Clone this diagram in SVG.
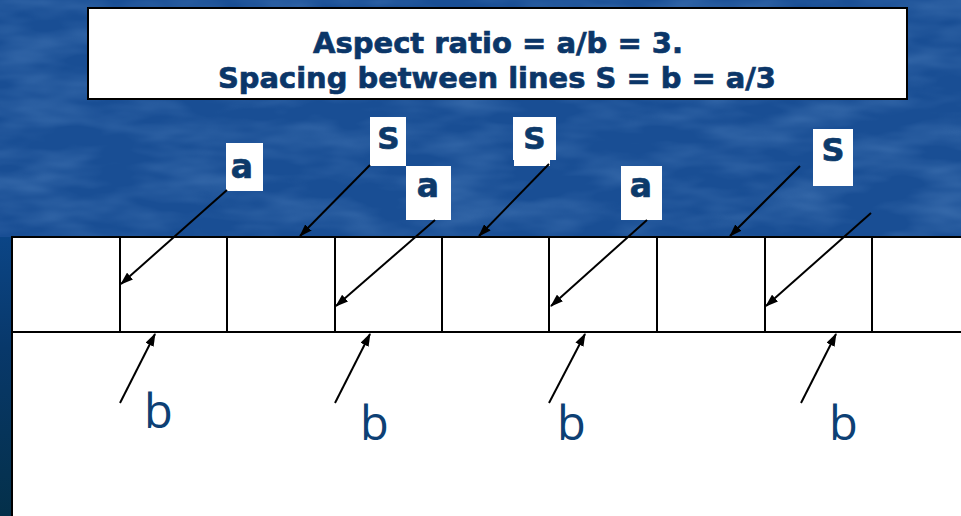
<svg xmlns="http://www.w3.org/2000/svg" width="961" height="516" viewBox="0 0 961 516">
  <defs>
    <style>
      .title { font-family: "DejaVu Sans", "Liberation Sans", sans-serif; font-weight: bold; font-size: 29px; fill: #0b3668; stroke: #0b3668; stroke-width: 0.7px; text-anchor: middle; }
      .lbl { font-family: "DejaVu Sans", "Liberation Sans", sans-serif; font-weight: bold; fill: #0d3a6a; stroke: #0d3a6a; stroke-width: 0.7px; text-anchor: middle; }
      .box { fill: #ffffff; }
      .b { font-family: "Open Sans", "DejaVu Sans", sans-serif; font-size: 47px; fill: #0d4074; }
      .grid { stroke: #000000; stroke-width: 2; fill: none; }
      .arrow { stroke: #000000; stroke-width: 2; fill: none; marker-end: url(#ah); }
    </style>
    <marker id="ah" markerUnits="userSpaceOnUse" markerWidth="13" markerHeight="9" refX="12" refY="4.5" orient="auto">
      <path d="M0,0 L13,4.5 L0,9 z" fill="#000000"/>
    </marker>
    <linearGradient id="leftg" x1="0" y1="0" x2="0" y2="1">
      <stop offset="0" stop-color="#0b4586"/>
      <stop offset="0.4" stop-color="#08386a"/>
      <stop offset="1" stop-color="#04304a"/>
    </linearGradient>
    <filter id="tex" x="0" y="0" width="100%" height="100%">
      <feTurbulence type="fractalNoise" baseFrequency="0.012 0.04" numOctaves="3" seed="7"/>
      <feColorMatrix type="matrix" values="0 0 0 0 0.35  0 0 0 0 0.6  0 0 0 0 0.95  1.2 0 0 0 -0.45"/>
    </filter>
  </defs>

  <!-- background -->
  <rect x="0" y="0" width="961" height="516" fill="#194e94"/>
  <rect x="0" y="0" width="961" height="516" filter="url(#tex)" opacity="0.35"/>
  <rect x="0" y="237" width="12" height="279" fill="url(#leftg)"/>

  <!-- title -->
  <g id="title">
    <rect x="88" y="8" width="819" height="91" fill="#ffffff" stroke="#000000" stroke-width="2"/>
    <text class="title" x="498" y="53" textLength="370" lengthAdjust="spacingAndGlyphs">Aspect ratio = a/b = 3.</text>
    <text class="title" x="497" y="88" textLength="558" lengthAdjust="spacingAndGlyphs">Spacing between lines S = b = a/3</text>
  </g>

  <!-- substrate with line pattern -->
  <g id="pattern">
    <rect x="12" y="237" width="955" height="290" fill="#ffffff"/>
    <path class="grid" d="M12,237 H961 M12,332 H961 M12,236 V516 M120,237 V332 M227,237 V332 M335,237 V332 M442,237 V332 M549,237 V332 M657,237 V332 M765,237 V332 M872,237 V332"/>
  </g>

  <!-- labels -->
  <g id="label-a1">
    <rect class="box" x="226" y="143" width="37" height="48"/>
    <text class="lbl" x="242" y="178" font-size="33">a</text>
  </g>
  <g id="label-s1">
    <rect class="box" x="370" y="117" width="36" height="49"/>
    <text class="lbl" x="388.5" y="149" font-size="31">S</text>
  </g>
  <g id="label-a2">
    <rect class="box" x="406" y="166" width="45" height="54"/>
    <text class="lbl" x="428" y="197" font-size="33">a</text>
  </g>
  <g id="label-s2">
    <path class="box" d="M513,117 H556 V160 H550 V166 H514 V160 H513 Z"/>
    <text class="lbl" x="534.5" y="149" font-size="31">S</text>
  </g>
  <g id="label-a3">
    <rect class="box" x="621" y="166" width="41" height="54"/>
    <text class="lbl" x="641" y="197" font-size="33">a</text>
  </g>
  <g id="label-s3">
    <rect class="box" x="813" y="129" width="40" height="57"/>
    <text class="lbl" x="833" y="161" font-size="32">S</text>
  </g>

  <g id="label-b1"><text class="b" x="144" y="428">b</text></g>
  <g id="label-b2"><text class="b" x="360" y="440">b</text></g>
  <g id="label-b3"><text class="b" x="557" y="440">b</text></g>
  <g id="label-b4"><text class="b" x="829" y="440">b</text></g>

  <!-- connectors -->
  <g id="connectors">
    <line class="arrow" x1="227" y1="190" x2="121" y2="284"/>
    <line class="arrow" x1="370" y1="165" x2="300" y2="236"/>
    <line class="arrow" x1="435" y1="220" x2="336" y2="306"/>
    <line class="arrow" x1="549" y1="164" x2="479" y2="236"/>
    <line class="arrow" x1="647" y1="220" x2="551" y2="306"/>
    <line class="arrow" x1="800" y1="166" x2="730" y2="236"/>
    <line class="arrow" x1="871" y1="213" x2="766" y2="306"/>
    <line class="arrow" x1="120" y1="403" x2="155" y2="334"/>
    <line class="arrow" x1="335" y1="403" x2="370" y2="334"/>
    <line class="arrow" x1="549" y1="403" x2="585" y2="334"/>
    <line class="arrow" x1="801" y1="403" x2="836" y2="334"/>
  </g>
</svg>
